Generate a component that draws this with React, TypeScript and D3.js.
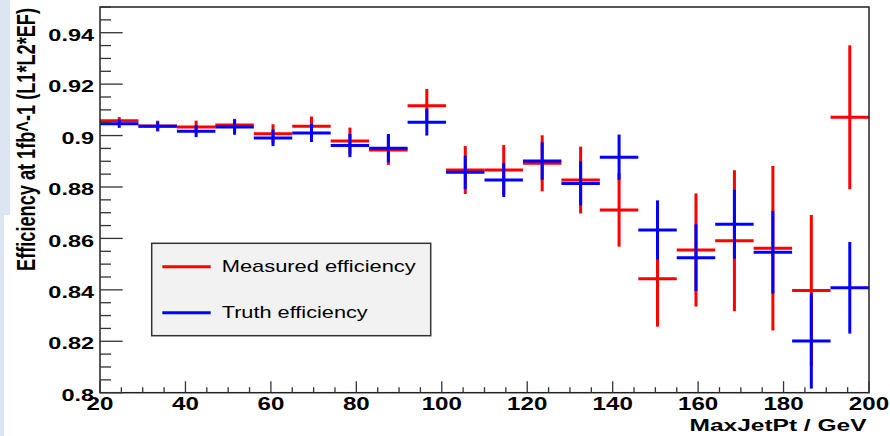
import React from "react";
import * as d3 from "d3";

// Bin edges: 20 bins of 9 GeV from 20 to 200
const binLow = [20, 29, 38, 47, 56, 65, 74, 83, 92, 101, 110, 119, 128, 137, 146, 155, 164, 173, 182, 191];
const binWidth = 9;

const measured = [0.9058, 0.9037, 0.9033, 0.9041, 0.9007, 0.9036, 0.8979, 0.8944, 0.9116, 0.8866, 0.8866, 0.8892, 0.8827, 0.8711, 0.8443, 0.8555, 0.8591, 0.8562, 0.8397, 0.9071];
const measuredErr = [0.0014, 0.0021, 0.0025, 0.0024, 0.0037, 0.0038, 0.0052, 0.0058, 0.0065, 0.0093, 0.0097, 0.0109, 0.013, 0.0143, 0.0186, 0.022, 0.0274, 0.032, 0.0294, 0.028];
const truth = [0.9046, 0.9036, 0.9017, 0.9033, 0.8991, 0.901, 0.8961, 0.8951, 0.9052, 0.8857, 0.8827, 0.8901, 0.8814, 0.8916, 0.8633, 0.8525, 0.8655, 0.8546, 0.8201, 0.8408];
const truthErr = [0.0016, 0.0018, 0.0023, 0.003, 0.0032, 0.0035, 0.0045, 0.0055, 0.0052, 0.0065, 0.0066, 0.0073, 0.0086, 0.0088, 0.0115, 0.013, 0.0134, 0.0161, 0.0185, 0.0178];

const xTicks = [20, 40, 60, 80, 100, 120, 140, 160, 180, 200];
const yTicks = [0.8, 0.82, 0.84, 0.86, 0.88, 0.9, 0.92, 0.94];
const yTickLabels = ["0.8", "0.82", "0.84", "0.86", "0.88", "0.9", "0.92", "0.94"];

const xTitle = "MaxJetPt / GeV";
const yTitle = "Efficiency at 1fb^-1 (L1*L2*EF)";
const legendLabels = ["Measured efficiency", "Truth efficiency"];
const seriesColors = ["#ff0000", "#0000ff"];

const W = 890;
const H = 436;
const left = 100;
const right = 869;
const top = 7;
const bottom = 392.7;
const FONT = "'Liberation Sans', Arial, Helvetica, sans-serif";
const SX = 1.38;

export default function App() {
  const x = d3.scaleLinear().domain([20, 200]).range([left, right]);
  const y = d3.scaleLinear().domain([0.8, 0.95]).range([bottom, top]);

  const xMinor = d3.range(20, 200.01, 5);
  const yMinor = d3.range(0, 31).map((i) => 0.8 + i * 0.005);

  const series = [
    { vals: measured, errs: measuredErr, color: seriesColors[0] },
    { vals: truth, errs: truthErr, color: seriesColors[1] },
  ];

  return (
    <svg
      width={W}
      height={H}
      style={{ position: "absolute", left: 0, top: 0, background: "#ffffff" }}
      fontFamily={FONT}
    >
      <rect x={0} y={0} width={W} height={H} fill="#ffffff" />
      <rect x={0} y={0} width={10} height={215} fill="#dde5f2" />
      <rect x={0} y={215} width={4} height={H - 215} fill="#dde5f2" />

      {/* data */}
      {series.map((s, si) => (
        <g key={si} stroke={s.color} strokeWidth={3}>
          {s.vals.map((v, i) => {
            const x0 = x(binLow[i]);
            const x1 = x(binLow[i] + binWidth);
            const xc = x(binLow[i] + binWidth / 2);
            return (
              <g key={i}>
                <line x1={x0} x2={x1} y1={y(v)} y2={y(v)} />
                <line x1={xc} x2={xc} y1={y(v - s.errs[i])} y2={y(v + s.errs[i])} />
              </g>
            );
          })}
        </g>
      ))}

      {/* frame */}
      <rect x={left} y={top} width={right - left} height={bottom - top} fill="none" stroke="#222" strokeWidth={1.5} />

      {/* y ticks */}
      <g stroke="#333" strokeWidth={1.3}>
        {yMinor.map((t, i) => {
          const major = i % 4 === 0;
          return <line key={i} x1={left} x2={left + (major ? 22.7 : 11)} y1={y(t)} y2={y(t)} />;
        })}
        {xMinor.map((t, i) => {
          const major = i % 4 === 0;
          return <line key={i} x1={x(t)} x2={x(t)} y1={bottom} y2={bottom - (major ? 11.5 : 5.5)} />;
        })}
      </g>

      {/* y tick labels */}
      {yTicks.map((t, i) => (
        <text
          key={i}
          transform={`translate(94,${y(t) + 8.2}) scale(${SX},1)`}
          textAnchor="end"
          fontSize={17}
          fontWeight="bold"
          fill="#000"
        >
          {yTickLabels[i]}
        </text>
      ))}

      {/* x tick labels */}
      {xTicks.map((t, i) => (
        <text
          key={i}
          transform={`translate(${x(t)},${410}) scale(${SX},1)`}
          textAnchor="middle"
          fontSize={17.5}
          fontWeight="bold"
          fill="#000"
        >
          {t}
        </text>
      ))}

      {/* axis titles */}
      <text
        x={689.5}
        y={430.5}
        fontSize={17}
        fontWeight="bold"
        textLength={177}
        lengthAdjust="spacingAndGlyphs"
        fill="#000"
      >
        {xTitle}
      </text>
      <text
        transform={`translate(35,8) scale(${SX},1) rotate(-90)`}
        textAnchor="end"
        fontSize={18}
        fontWeight="bold"
        textLength={263}
        lengthAdjust="spacingAndGlyphs"
        fill="#000"
      >
        {yTitle}
      </text>

      {/* legend */}
      <rect x={151.7} y={243.3} width={279} height={92.4} fill="#f2f2f2" stroke="#333" strokeWidth={1.5} />
      {legendLabels.map((lab, i) => {
        const ly = i === 0 ? 266.7 : 312.7;
        return (
          <g key={i}>
            <line x1={162.3} x2={210.7} y1={ly} y2={ly} stroke={seriesColors[i]} strokeWidth={3} />
            <text
              x={221.7}
              y={ly + 5.2}
              fontSize={17}
              textLength={i === 0 ? 194 : 146}
              lengthAdjust="spacingAndGlyphs"
              fill="#000"
            >
              {lab}
            </text>
          </g>
        );
      })}
    </svg>
  );
}
